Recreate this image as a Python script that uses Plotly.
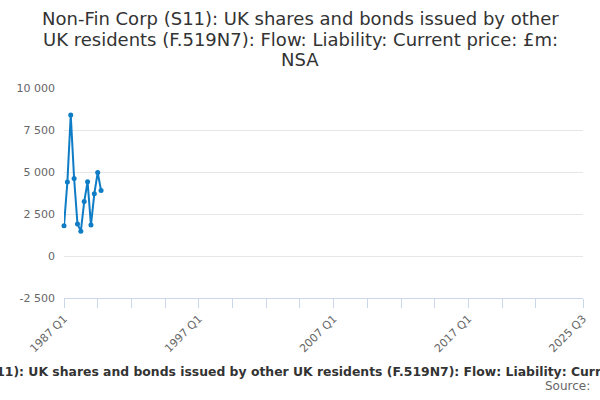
import plotly.graph_objects as go

# Categories: quarterly 1987 Q1 .. 2025 Q3
categories = [f"{y} Q{q}" for y in range(1987, 2026) for q in range(1, 5)]
categories = categories[:categories.index("2025 Q3") + 1]

# Series values (£m), only the first 12 quarters have data
data_periods = ["1987 Q1", "1987 Q2", "1987 Q3", "1987 Q4",
                "1988 Q1", "1988 Q2", "1988 Q3", "1988 Q4",
                "1989 Q1", "1989 Q2", "1989 Q3", "1989 Q4"]
values = [1800, 4400, 8400, 4620, 1900, 1480, 3240, 4420, 1840, 3710, 4970, 3900]

labelled_ticks = ["1987 Q1", "1997 Q1", "2007 Q1", "2017 Q1", "2025 Q3"]
y_ticks = [-2500, 0, 2500, 5000, 7500, 10000]
y_tick_text = ["-2 500", "0", "2 500", "5 000", "7 500", "10 000"]

title_lines = ["Non-Fin Corp (S11): UK shares and bonds issued by other",
               "UK residents (F.519N7): Flow: Liability: Current price: £m:",
               "NSA"]
axis_title = ("Non-Fin Corp (S11): UK shares and bonds issued by other UK residents "
              "(F.519N7): Flow: Liability: Current price: £m: NSA")

tick_cats = categories[0:141:10] + ["2025 Q3"]
tick_text = [c if c in labelled_ticks else "" for c in tick_cats]

color = "#0f7cc6"
font = "DejaVu Sans, sans-serif"

fig = go.Figure()
fig.add_trace(go.Scatter(
    x=data_periods, y=values, mode="lines+markers",
    line=dict(color=color, width=2),
    marker=dict(color=color, size=5),
    showlegend=False, hoverinfo="x+y", cliponaxis=False,
))

title_shifts = [70, 48.5, 28.5]
annotations = [
    dict(text=t, xref="paper", yref="paper", x=0, y=1,
         xshift=300 - 64, yshift=s, xanchor="center", yanchor="middle",
         showarrow=False, font=dict(family=font, size=18, color="#333333"))
    for t, s in zip(title_lines, title_shifts)
]
annotations += [
    dict(text="<b>" + axis_title + "</b>", xref="paper", yref="paper",
         x=0.465, y=0, yshift=-73, xshift=4, xanchor="center", yanchor="middle",
         showarrow=False, font=dict(family=font, size=12.4, color="#333333")),
    dict(text="Source:", xref="paper", yref="paper", x=1, y=0, yshift=-88,
         xshift=9, xanchor="right", yanchor="middle", showarrow=False,
         font=dict(family=font, size=12, color="#666666")),
]

fig.update_layout(
    width=600, height=400,
    margin=dict(l=64, r=17, t=88, b=102),
    paper_bgcolor="white", plot_bgcolor="white",
    font=dict(family=font, color="#666666", size=11),
    xaxis=dict(
        type="category", categoryorder="array", categoryarray=categories,
        range=[0, len(categories) - 1],
        tickmode="array", tickvals=tick_cats, ticktext=tick_text,
        tickangle=-45, ticks="outside", ticklen=9, tickcolor="#ccd6eb",
        showline=True, linecolor="#ccd6eb", linewidth=1,
        showgrid=False, zeroline=False, automargin=False,
        tickfont=dict(family=font, size=11, color="#666666"),
    ),
    yaxis=dict(
        range=[-2500, 10000], tickvals=y_ticks, ticktext=y_tick_text,
        showgrid=True, gridcolor="#e6e6e6", gridwidth=1,
        zeroline=False, showline=False, ticks="", automargin=False,
        tickfont=dict(family=font, size=11, color="#666666"),
        ticklabelstandoff=8,
    ),
    annotations=annotations,
)

fig.write_html("out.html", config={"displayModeBar": False},
               post_script="document.body.style.margin='0';document.body.style.overflow='hidden';")
